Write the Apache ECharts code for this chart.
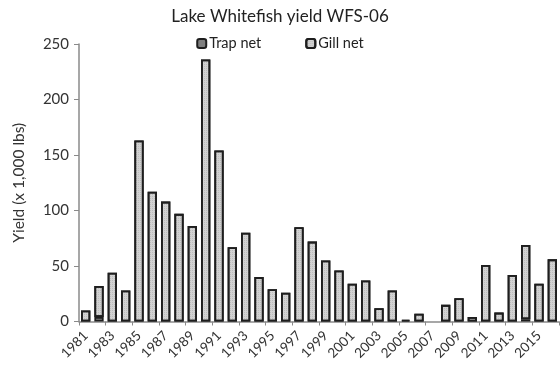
<!DOCTYPE html>
<html>
<head>
<meta charset="utf-8">
<script src="https://cdn.jsdelivr.net/npm/echarts@6/dist/echarts.min.js"></script>
<style>
  html, body { margin: 0; padding: 0; background: #fff; }
  #chart { width: 560px; height: 375px; }
</style>
</head>
<body>
<div id="chart"></div>
<script>
// Annual Lake Whitefish commercial yield, thousands of pounds
const years = [];
for (let y = 1981; y <= 2016; y++) years.push(String(y));

const trapNet = [0, 4, 0, 0, 0, 0, 0, 0, 0, 0, 0, 0, 0, 0, 0, 0, 0, 0, 0, 0,
                 0, 0, 0, 0, 0, 0, 0, 0, 0, 0, 0, 0, 0, 2, 0, 0];
const gillNet = [10, 28, 44, 28, 163, 117, 108, 97, 86, 236, 154, 67, 80, 40, 29, 26,
                 85, 72, 55, 46, 34, 37, 12, 28, 1.5, 7, 0, 15, 21, 4, 51, 8, 42, 67, 34, 56];

const yTicks = [0, 50, 100, 150, 200, 250];

// zero-yield years get no bar outline
const noZero = arr => arr.map(v => (v === 0 ? '-' : v));

const font = 'Lato, "Open Sans", sans-serif';
const chart = echarts.init(document.getElementById('chart'));

// fine stipple used on the gill-net bars
const stipple = {
  symbol: 'rect',
  symbolSize: 1,
  dashArrayX: [1, 1],
  dashArrayY: [1, 1],
  rotation: 0,
  color: 'rgba(0,0,0,0.10)'
};

chart.setOption({
  animation: false,
  title: {
    text: 'Lake Whitefish yield WFS-06',
    left: 'center',
    top: 3,
    textStyle: { fontFamily: font, fontSize: 17, fontWeight: 'normal', color: '#222' }
  },
  legend: {
    top: 31,
    left: 'center',
    itemWidth: 9,
    itemHeight: 9,
    itemGap: 44,
    textStyle: { fontFamily: font, fontSize: 14.5, color: '#222', padding: [0, 0, 0, -2] },
    data: ['Trap net', 'Gill net']
  },
  grid: { left: 79, right: 1, top: 44, bottom: 53.5 },
  xAxis: {
    type: 'category',
    data: years,
    axisLine: { lineStyle: { color: '#8a8a8a', width: 1.5 } },
    axisTick: { show: true, alignWithLabel: false, length: 4, lineStyle: { color: '#8a8a8a' } },
    axisLabel: {
      interval: 1,
      rotate: 45,
      fontFamily: font,
      fontSize: 13.5,
      color: '#333',
      margin: 12
    }
  },
  yAxis: {
    type: 'value',
    min: yTicks[0],
    max: yTicks[yTicks.length - 1],
    interval: 50,
    name: 'Yield (x 1,000 lbs)',
    nameLocation: 'middle',
    nameGap: 52,
    nameTextStyle: { fontFamily: font, fontSize: 15.5, color: '#333' },
    axisLine: { show: true, lineStyle: { color: '#8a8a8a', width: 1.5 } },
    axisTick: { show: true, length: 5, lineStyle: { color: '#8a8a8a' } },
    splitLine: { show: false },
    axisLabel: { fontFamily: font, fontSize: 15, color: '#333', margin: 10 }
  },
  series: [
    {
      name: 'Trap net',
      type: 'bar',
      stack: 'yield',
      barCategoryGap: '30%',
      data: noZero(trapNet),
      itemStyle: { color: '#7f7f7f', borderColor: '#1e1e1e', borderWidth: 1.8 }
    },
    {
      name: 'Gill net',
      type: 'bar',
      stack: 'yield',
      barCategoryGap: '30%',
      data: noZero(gillNet),
      itemStyle: { color: '#d2d2d2', borderColor: '#1e1e1e', borderWidth: 1.8, decal: stipple }
    }
  ]
});
</script>
</body>
</html>
